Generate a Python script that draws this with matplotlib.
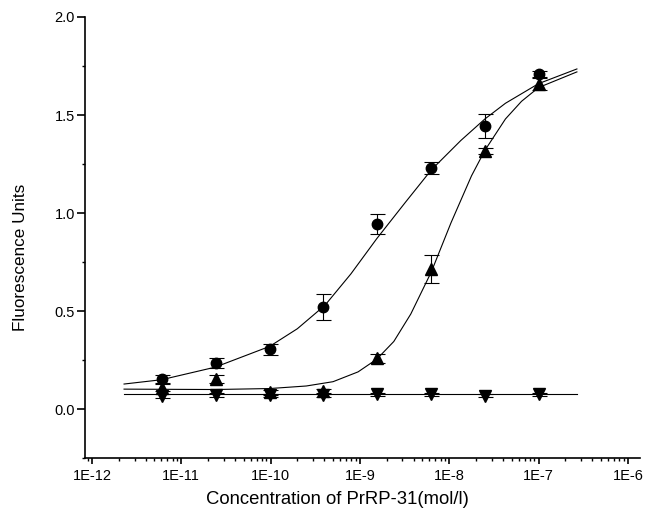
import numpy as np
import matplotlib
matplotlib.use("Agg")
from matplotlib import pyplot as plt
from matplotlib.ticker import LogLocator, MultipleLocator, NullFormatter

plt.rcParams["font.family"] = ["Liberation Sans", "DejaVu Sans"]

# concentrations of PrRP-31 (mol/l), fourfold dilutions
conc = [6.1e-12, 2.44e-11, 9.8e-11, 3.9e-10, 1.56e-9, 6.25e-9, 2.5e-8, 1e-7]

circle_y = [0.153, 0.235, 0.306, 0.52, 0.944, 1.23, 1.444, 1.709]
circle_err = [0.02, 0.025, 0.028, 0.065, 0.05, 0.03, 0.06, 0.015]

up_y = [0.11, 0.153, 0.085, 0.09, 0.26, 0.714, 1.316, 1.66]
up_err = [0.02, 0.02, 0.015, 0.015, 0.023, 0.07, 0.015, 0.03]

down_y = [0.065, 0.072, 0.07, 0.072, 0.075, 0.075, 0.068, 0.075]
down_err = [0.01, 0.008, 0.008, 0.008, 0.008, 0.008, 0.008, 0.008]

# fitted curves (log10 conc, value)
circle_fit_logx = [-11.64, -11.22, -10.62, -10.01, -9.70, -9.39, -9.10, -8.81,
                   -8.49, -8.20, -7.87, -7.60, -7.37, -7.00, -6.57]
circle_fit_y = [0.128, 0.150, 0.214, 0.320, 0.410, 0.530, 0.690, 0.870,
                1.055, 1.220, 1.370, 1.480, 1.560, 1.660, 1.735]

up_fit_logx = [-11.64, -10.62, -10.01, -9.60, -9.30, -9.02, -8.81, -8.62, -8.43,
               -8.20, -7.98, -7.75, -7.60, -7.37, -7.19, -7.00, -6.57]
up_fit_y = [0.102, 0.100, 0.105, 0.118, 0.140, 0.190, 0.255, 0.345, 0.485,
            0.700, 0.950, 1.190, 1.320, 1.480, 1.570, 1.640, 1.720]

down_fit_logx = [-11.64, -6.57]
down_fit_y = [0.075, 0.075]

fig = plt.figure(figsize=(6.47, 5.23), dpi=100)
ax = fig.add_axes([0.131, 0.124, 0.858, 0.8435])

ax.plot(10 ** np.array(circle_fit_logx), circle_fit_y, color="black", lw=0.8)
ax.plot(10 ** np.array(up_fit_logx), up_fit_y, color="black", lw=0.8)
ax.plot(10 ** np.array(down_fit_logx), down_fit_y, color="black", lw=0.8)

eb = dict(color="black", ecolor="black", elinewidth=0.8, capsize=5.4,
          capthick=0.8, linestyle="none")
ax.errorbar(conc, circle_y, yerr=circle_err, marker="o", markersize=7.5, **eb)
ax.errorbar(conc, up_y, yerr=up_err, marker="^", markersize=8, **eb)
ax.errorbar(conc, down_y, yerr=down_err, marker="v", markersize=8, **eb)

ax.set_xscale("log")
ax.set_xlim(10 ** -12.08, 10 ** -5.865)
ax.set_ylim(-0.25, 2.0)

ax.xaxis.set_minor_locator(LogLocator(base=10, subs=np.arange(2, 10), numticks=10))
ax.xaxis.set_minor_formatter(NullFormatter())
ax.set_xticks([1e-12, 1e-11, 1e-10, 1e-9, 1e-8, 1e-7, 1e-6])
ax.set_xticklabels(["1E-12", "1E-11", "1E-10", "1E-9", "1E-8", "1E-7", "1E-6"])

ax.set_yticks([0.0, 0.5, 1.0, 1.5, 2.0])
ax.yaxis.set_minor_locator(MultipleLocator(0.25))

for s in ["top", "right"]:
    ax.spines[s].set_visible(False)
for s in ["left", "bottom"]:
    ax.spines[s].set_linewidth(1.2)

ax.tick_params(which="major", direction="out", width=1.2, labelsize=10.5)
ax.tick_params(axis="y", which="major", length=5.5, pad=1.5)
ax.tick_params(axis="x", which="major", length=4.5, pad=3)
ax.tick_params(which="minor", direction="out", length=2.5, width=1.0)

ax.set_xlabel("Concentration of PrRP-31(mol/l)", fontsize=13.3)
ax.xaxis.set_label_coords(0.456, -0.075)
ax.set_ylabel("Fluorescence Units", fontsize=12.3)
ax.yaxis.set_label_coords(-0.103, 0.455)

fig.savefig("out.png", dpi=100)
